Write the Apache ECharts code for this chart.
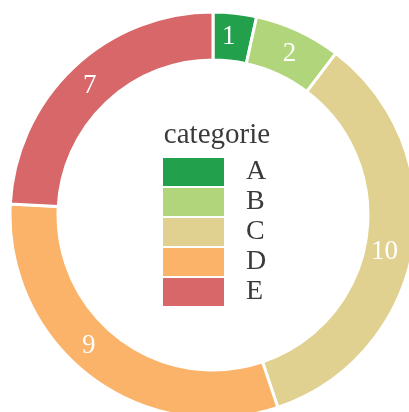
<!DOCTYPE html>
<html>
<head>
<meta charset="utf-8">
<script src="https://cdn.jsdelivr.net/npm/echarts@6/dist/echarts.min.js"></script>
<style>html,body{margin:0;padding:0;background:#fff}#c{width:409px;height:412px}</style>
</head>
<body>
<div id="c"></div>
<script>
const categories = ['A', 'B', 'C', 'D', 'E'];
const values = [1, 2, 10, 9, 7];
const colors = ['#22a04b', '#b1d57a', '#e0d190', '#fbb36a', '#d8676a'];
const legendTitle = 'categorie';

// small per-label nudges to match the reference's label placement
const labelNudge = {A: [-4, 3], B: [0, 4], C: [-8, 7], D: [-14, -14], E: [2, 3]};

const chart = echarts.init(document.getElementById('c'), null, {renderer: 'canvas'});
const serif = '"Liberation Serif", "DejaVu Serif", serif';
chart.setOption({
  animation: false,
  color: colors,
  title: {
    text: legendTitle,
    left: 217, top: 121, textAlign: 'center', padding: 0,
    textStyle: {fontFamily: serif, fontSize: 29, fontWeight: 'normal', color: '#3a3a3a'}
  },
  legend: {
    orient: 'vertical', left: 163, top: 158, padding: 0,
    icon: 'rect', itemWidth: 61, itemHeight: 28, itemGap: 2,
    itemStyle: {borderWidth: 0},
    textStyle: {fontFamily: serif, fontSize: 28, lineHeight: 24, color: '#3a3a3a', padding: [0, 0, 4, 17]},
    data: categories
  },
  series: [{
    type: 'pie',
    center: [213, 215],
    radius: [155, 203],
    startAngle: 90,
    clockwise: true,
    itemStyle: {borderColor: '#fff', borderWidth: 3},
    label: {show: true, position: 'inside', formatter: '{c}', color: '#fff', fontFamily: serif, fontSize: 27},
    labelLine: {show: false},
    emphasis: {disabled: true},
    data: categories.map((n, i) => ({name: n, value: values[i], label: {offset: labelNudge[n]}}))
  }]
});
</script>
</body>
</html>
